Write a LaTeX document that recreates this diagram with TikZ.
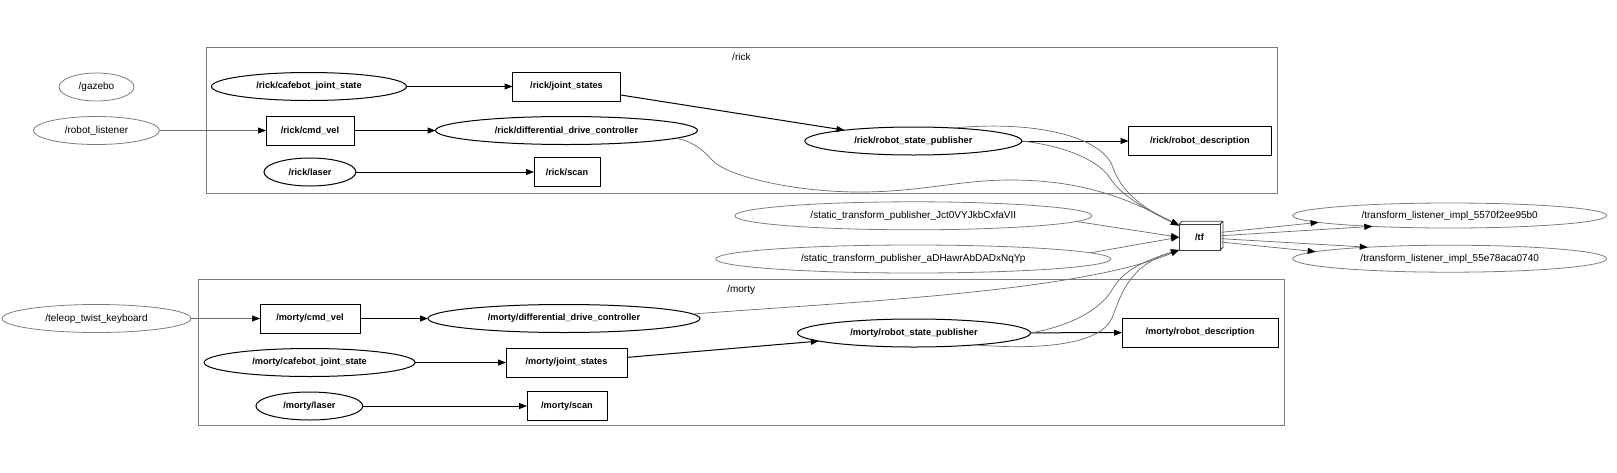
\documentclass[tikz,border=0pt]{standalone}
\usepackage{fontspec}
\setmainfont{Liberation Sans}
\usetikzlibrary{shapes.geometric,arrows.meta,positioning}
\definecolor{GraphLineGray}{HTML}{6A6A6A}
\definecolor{GraphFrameGray}{HTML}{7C7C7C}
\definecolor{GraphBoxGray}{HTML}{3C3C3C}
\begin{document}
\begin{tikzpicture}[x=1pt,y=-1pt,
    every node/.style={inner sep=0pt,outer sep=0pt,text=black},
    rosnode/.style={ellipse,draw=black,line width=1pt,minimum height=28pt,font=\fontsize{9.2}{11}\selectfont\bfseries},
    rostopic/.style={rectangle,draw=black,line width=1pt,minimum height=29pt,font=\fontsize{9.2}{11}\selectfont\bfseries},
    extnode/.style={ellipse,draw=GraphFrameGray,line width=0.8pt,minimum height=28pt,font=\fontsize{10}{12}\selectfont},
    tfbox/.style={rectangle,draw=GraphBoxGray,line width=0.8pt,font=\fontsize{9.2}{11}\selectfont\bfseries},
    clusterbox/.style={rectangle,draw=GraphFrameGray,line width=0.8pt},
    clusterlabel/.style={font=\fontsize{10}{12}\selectfont},
    pubedge/.style={draw=black,line width=1pt,-{Triangle[length=8pt,width=6pt]}},
    tfedge/.style={draw=GraphLineGray,line width=0.7pt,-{Triangle[length=8pt,width=6pt,color=black]}}]
    \useasboundingbox (0,0) rectangle (1617,472);
    \node[clusterbox,minimum width=1071pt,minimum height=146pt] (rickBox) at (741.4,120.4) {};
    \node[clusterlabel,below=6pt of rickBox.north] (rickLabel) {/rick};
    \node[clusterbox,minimum width=1086pt,minimum height=146pt] (mortyBox) at (741.2,352.5) {};
    \node[clusterlabel,below=6pt of mortyBox.north] (mortyLabel) {/morty};

    \node[extnode,minimum width=75pt] (gazebo) at (96.5,87) {/gazebo};
    \node[extnode,minimum width=126pt] (robotListener) at (96.5,130.5) {/robot\_listener};
    \node[extnode,minimum width=189pt] (teleop) at (96.5,318.5) {/teleop\_twist\_keyboard};

    \node[rosnode,minimum width=195pt] (rickCafebot) at (309,86.5) {/rick/cafebot\_joint\_state};
    \node[rostopic,minimum width=108pt] (rickJoint) at (566.5,86.5) {/rick/joint\_states};
    \node[rostopic,minimum width=88pt] (rickCmd) at (310,130.5) {/rick/cmd\_vel};
    \node[rosnode,minimum width=262pt] (rickDdc) at (566.5,130.5) {/rick/differential\_drive\_controller};
    \node[rosnode,minimum width=92pt] (rickLaser) at (310,172) {/rick/laser};
    \node[rostopic,minimum width=66pt] (rickScan) at (567,172) {/rick/scan};
    \node[rosnode,minimum width=217pt] (rickRsp) at (913.3,141) {/rick/robot\_state\_publisher};
    \node[rostopic,minimum width=143pt] (rickDesc) at (1200,141) {/rick/robot\_description};

    \node[rostopic,minimum width=100pt] (mortyCmd) at (310,318.5) {/morty/cmd\_vel};
    \node[rosnode,minimum width=272pt] (mortyDdc) at (564,318.5) {/morty/differential\_drive\_controller};
    \node[rosnode,minimum width=211pt] (mortyCafebot) at (309.6,362.5) {/morty/cafebot\_joint\_state};
    \node[rostopic,minimum width=121pt] (mortyJoint) at (566.5,362.5) {/morty/joint\_states};
    \node[rosnode,minimum width=107pt] (mortyLaser) at (309.4,406) {/morty/laser};
    \node[rostopic,minimum width=80pt] (mortyScan) at (567,406) {/morty/scan};
    \node[rosnode,minimum width=233pt] (mortyRsp) at (914,333) {/morty/robot\_state\_publisher};
    \node[rostopic,minimum width=156pt] (mortyDesc) at (1200,332.5) {/morty/robot\_description};

    \node[extnode,minimum width=357pt] (staticJ) at (913.3,215.8) {/static\_transform\_publisher\_Jct0VYJkbCxfaVII};
    \node[extnode,minimum width=395pt] (staticA) at (913.3,259) {/static\_transform\_publisher\_aDHawrAbDADxNqYp};
    \node[tfbox,minimum width=41pt,minimum height=26pt] (tf) at (1199.5,237.2) {/tf};
    \draw[tfbox] (tf.north west) -- ++(3,-3) -| ([shift={(3,-3)}]tf.south east) -- (tf.south east) (tf.north east) -- ++(3,-3);
    \node[extnode,minimum width=314pt,minimum height=25pt] (listenerA) at (1449.7,215.5) {/transform\_listener\_impl\_5570f2ee95b0};
    \node[extnode,minimum width=314pt,minimum height=27pt] (listenerB) at (1449.7,258.7) {/transform\_listener\_impl\_55e78aca0740};

    \draw[pubedge] (rickCafebot) -- (rickJoint);
    \draw[pubedge] (rickJoint) -- (rickRsp);
    \draw[tfedge] (robotListener) -- (rickCmd);
    \draw[pubedge] (rickCmd) -- (rickDdc);
    \draw[pubedge] (rickLaser) -- (rickScan);
    \draw[pubedge] (rickRsp) -- (rickDesc);
    \draw[tfedge] (teleop) -- (mortyCmd);
    \draw[pubedge] (mortyCmd) -- (mortyDdc);
    \draw[pubedge] (mortyCafebot) -- (mortyJoint);
    \draw[pubedge] (mortyJoint) -- (mortyRsp);
    \draw[pubedge] (mortyLaser) -- (mortyScan);
    \draw[pubedge] (mortyRsp) -- (mortyDesc);

    \draw[tfedge] (rickDdc.-4) .. controls (695,142) and (705,152) .. (712,160) .. controls (725,175) and (790,192) .. (860,192) .. controls (920,192) and (960,180) .. (1010,180) .. controls (1080,180) and (1125,197) .. (tf.150);
    \draw[tfedge] (rickRsp.18) .. controls (1040,120) and (1100,138) .. (1112,165) .. controls (1120,190) and (1140,207) .. (tf.150);
    \draw[tfedge] (rickRsp.east) .. controls (1065,146) and (1098,160) .. (1110,178) .. controls (1120,195) and (1150,212) .. (tf.150);
    \draw[tfedge] (staticJ.-2) -- (tf.west);
    \draw[tfedge] (staticA.2) -- (tf.west);
    \draw[tfedge] (mortyDdc.2) .. controls (850,302) and (1080,292) .. (tf.212);
    \draw[tfedge] (mortyRsp.east) .. controls (1070,326) and (1100,310) .. (1112,290) .. controls (1122,272) and (1140,262) .. (tf.212);
    \draw[tfedge] (mortyRsp.-11) .. controls (1040,350) and (1100,345) .. (1112,318) .. controls (1122,292) and (1130,265) .. (tf.212);

    \draw[tfedge] (tf.13) -- (listenerA.183);
    \draw[tfedge] (tf.4) -- (listenerA.188);
    \draw[tfedge] (tf.-4) -- (listenerB.172);
    \draw[tfedge] (tf.-13) -- (listenerB.177);
\end{tikzpicture}
\end{document}
